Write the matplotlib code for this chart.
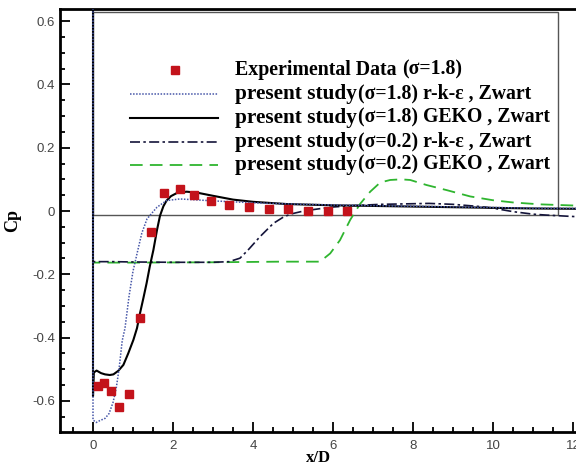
import numpy as np
import matplotlib
matplotlib.use("Agg")
import matplotlib.pyplot as plt
from matplotlib.lines import Line2D
from matplotlib.patches import Rectangle
from matplotlib.ticker import MultipleLocator, FixedLocator, FixedFormatter

# Dados experimentais (sigma=1.8)
x_exp = [0.13, 0.28, 0.45, 0.66, 0.91, 1.175, 1.46, 1.775, 2.17, 2.53, 2.94, 3.39, 3.89, 4.39, 4.87, 5.38, 5.88, 6.36]
cp_exp = [-0.553, -0.544, -0.567, -0.618, -0.578, -0.338, -0.066, 0.058, 0.070, 0.050, 0.031, 0.019, 0.013, 0.005, 0.005, -0.001, -0.001, 0.001]

# sigma=1.8 r-k-epsilon (pontilhado azul)
x_rke18 = [0, 0, 0.08, 0.17, 0.3, 0.4, 0.5, 0.58, 0.65, 0.73, 0.8, 0.9, 1.0, 1.05, 1.1, 1.22, 1.35, 1.47, 1.6, 1.84,
           2.17, 2.6, 3.0, 3.5, 4.0, 5.0, 6.0, 7.0, 8.0, 9.0, 10.0, 11.0, 12.1]
cp_rke18 = [0.7, -0.66, -0.668, -0.662, -0.655, -0.64, -0.605, -0.56, -0.50, -0.41, -0.37, -0.27, -0.19, -0.163, -0.135,
            -0.07, -0.025, -0.007, 0.012, 0.033, 0.038, 0.035, 0.032, 0.029, 0.026, 0.022, 0.019, 0.017, 0.015, 0.013,
            0.011, 0.009, 0.008]

# sigma=1.8 GEKO (preto continuo)
x_geko18 = [0, 0, 0.02, 0.09, 0.2, 0.3, 0.42, 0.51, 0.63, 0.76, 0.88, 1.01, 1.1, 1.175, 1.26, 1.34, 1.42, 1.51, 1.6,
            1.675, 1.76, 1.84, 1.95, 2.1, 2.34, 2.6, 3.0, 3.5, 4.0, 4.84, 6.0, 7.0, 8.0, 9.0, 10.0, 11.0, 12.1]
cp_geko18 = [0.7, -0.585, -0.51, -0.504, -0.512, -0.516, -0.518, -0.516, -0.505, -0.486, -0.45, -0.407, -0.37, -0.323,
             -0.275, -0.228, -0.175, -0.123, -0.06, -0.015, 0.015, 0.033, 0.047, 0.057, 0.061, 0.058, 0.048, 0.036,
             0.029, 0.022, 0.018, 0.016, 0.014, 0.012, 0.010, 0.008, 0.007]

# sigma=0.2 r-k-epsilon (traco-ponto)
x_rke02 = [0, 0, 0.5, 1.0, 2.0, 3.0, 3.4, 3.675, 3.9, 4.175, 4.51, 4.75, 4.93, 5.2, 5.43, 5.93, 6.5, 7.18, 8.0, 8.4,
           9.0, 9.68, 10.0, 10.5, 11.0, 11.34, 12.1]
cp_rke02 = [0.7, -0.16, -0.16, -0.161, -0.162, -0.162, -0.16, -0.149, -0.12, -0.081, -0.039, -0.02, -0.01, -0.002,
            0.003, 0.012, 0.017, 0.021, 0.023, 0.024, 0.021, 0.014, 0.009, -0.002, -0.010, -0.013, -0.018]

# sigma=0.2 GEKO (tracejado verde)
x_geko02 = [0, 0, 1.0, 3.0, 4.675, 5.675, 5.93, 6.175, 6.43, 6.675, 6.93, 7.18, 7.43, 7.7, 7.93, 8.34, 8.84, 9.43,
            10.0, 10.5, 11.18, 12.1]
cp_geko02 = [0.7, -0.163, -0.163, -0.162, -0.16, -0.16, -0.134, -0.092, -0.028, 0.022, 0.061, 0.09, 0.098, 0.10,
             0.098, 0.082, 0.066, 0.046, 0.034, 0.027, 0.021, 0.017]

# Ticks
xticks = [0, 2, 4, 6, 8, 10, 12]
xtick_labels = ["0", "2", "4", "6", "8", "10", "12"]
yticks = [-0.6, -0.4, -0.2, 0, 0.2, 0.4, 0.6]
ytick_labels = ["-0.6", "-0.4", "-0.2", "0", "0.2", "0.4", "0.6"]

# Legenda
leg_main = ["Experimental Data", "present study", "present study", "present study", "present study"]
leg_suffix = ["(σ=1.8)", "(σ=1.8) r-k-ε , Zwart", "(σ=1.8) GEKO , Zwart", "(σ=0.2) r-k-ε , Zwart", "(σ=0.2) GEKO , Zwart"]

# Moldura da legenda (Tecplot)
box_x0, box_x1 = 0.0, 11.63
box_y0, box_y1 = -0.012, 0.627

RED = "#c3131b"
BLUE = "#4656a8"
NAVY = "#14143a"
GREEN = "#2fb52f"

fig = plt.figure(figsize=(5.76, 4.68), dpi=100)
ax = fig.add_axes([60 / 576, 36 / 468, 516 / 576, 423 / 468])

ax.add_patch(Rectangle((box_x0, box_y0), box_x1 - box_x0, box_y1 - box_y0,
                       fill=False, edgecolor="#555555", lw=1.0, zorder=1))

ax.plot(x_geko02, cp_geko02, color=GREEN, lw=1.3, dashes=(7, 4), zorder=2)
ax.plot(x_rke02, cp_rke02, color=NAVY, lw=1.2, dashes=(6, 2, 1.5, 2), zorder=3)
ax.plot(x_geko18, cp_geko18, color="black", lw=1.5, zorder=4)
ax.plot(x_rke18, cp_rke18, color=BLUE, lw=1.1, linestyle=(0, (1, 1)), zorder=5)
ax.plot(x_exp, cp_exp, linestyle="none", marker="s", markersize=6, color=RED, zorder=6)

ax.set_xlim(-0.825, 12.075)
ax.set_ylim(-0.698, 0.638)

ax.xaxis.set_major_locator(FixedLocator(xticks))
ax.xaxis.set_major_formatter(FixedFormatter(xtick_labels))
ax.yaxis.set_major_locator(FixedLocator(yticks))
ax.yaxis.set_major_formatter(FixedFormatter(ytick_labels))
ax.xaxis.set_minor_locator(MultipleLocator(0.5))
ax.yaxis.set_minor_locator(MultipleLocator(0.05))
ax.tick_params(which="both", direction="in", top=False, right=False, width=1.3, colors="black",
               labelcolor="#444444", labelsize=9.5)
ax.tick_params(which="major", length=7)
ax.tick_params(which="minor", length=3.5)
for lab in ax.get_xticklabels() + ax.get_yticklabels():
    lab.set_family("Liberation Sans")
ax.tick_params(axis="x", pad=6)

for s in ["left", "bottom", "top"]:
    ax.spines[s].set_linewidth(2)
ax.spines["right"].set_visible(False)

ax.set_xlabel("x/D", family="Liberation Serif", fontweight="bold", fontsize=12, labelpad=-1.5)
ax.set_ylabel("Cp", family="Liberation Serif", fontweight="bold", fontsize=13, labelpad=8)

# legenda manual
row_y = [0.856, 0.799, 0.742, 0.686, 0.631]
h0, h1, hm = 0.1357, 0.3062, 0.2229
tx = 0.339
handles = [
    dict(marker="s", linestyle="none", color=RED, markersize=6),
    dict(color=BLUE, lw=1.1, linestyle=(0, (1, 1))),
    dict(color="black", lw=1.5),
    dict(color=NAVY, lw=1.2, dashes=(6, 2, 1.5, 2)),
    dict(color=GREEN, lw=1.3, dashes=(7, 4)),
]
main_size = [14.3, 15.3, 15.3, 15.3, 15.3]
for i, y in enumerate(row_y):
    if i == 0:
        ln = Line2D([hm], [y], transform=ax.transAxes, **handles[i])
    else:
        ln = Line2D([h0, h1], [y, y], transform=ax.transAxes, **handles[i])
    ax.add_line(ln)
    t = ax.text(tx, y, leg_main[i], transform=ax.transAxes, family="Liberation Serif",
                fontweight="bold", fontsize=main_size[i], va="center", ha="left")
    gap = 4 if i == 0 else 1
    ax.annotate(leg_suffix[i], xy=(1, 0), xycoords=t, xytext=(gap, 0.3), textcoords="offset points",
                family="Liberation Serif", fontweight="bold", fontsize=14.2, va="bottom", ha="left")

fig.savefig("out.png", dpi=100)
